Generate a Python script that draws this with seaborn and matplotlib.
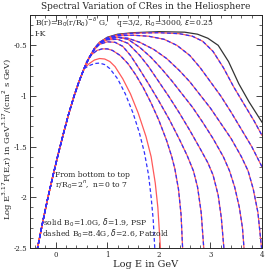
import numpy as np
import pandas as pd
import seaborn as sns
import matplotlib
matplotlib.use("Agg")
import matplotlib.pyplot as plt
from matplotlib.ticker import MultipleLocator

# shared low-energy rise (all curves follow it)
rise_x = [-0.36, -0.25, -0.15, -0.05, 0.05, 0.15, 0.25, 0.35, 0.45, 0.55]
rise_y = [-2.52, -2.24, -2.0, -1.78, -1.57, -1.37, -1.18, -1.01, -0.86, -0.73]

# top black curve
black_x = [0.65, 0.75, 0.85, 1.0, 1.2, 1.5, 2.0, 2.5, 2.75, 2.95, 3.15, 3.35, 3.55, 3.75, 4.0]
black_y = [-0.62, -0.53, -0.47, -0.42, -0.39, -0.375, -0.365, -0.37, -0.39, -0.43, -0.50, -0.66, -0.88, -1.06, -1.26]

# r/R0 = 2^n, solid (PSP)
n7_x = [0.65, 0.75, 0.85, 1.0, 1.2, 1.5, 2.0, 2.4, 2.65, 2.85, 3.05, 3.25, 3.45, 3.65, 3.85, 4.0]
n7_y = [-0.62, -0.53, -0.47, -0.425, -0.395, -0.38, -0.375, -0.385, -0.41, -0.46, -0.56, -0.72, -0.91, -1.08, -1.25, -1.39]
n6_x = [0.65, 0.75, 0.85, 1.0, 1.2, 1.5, 1.8, 2.1, 2.35, 2.6, 2.8, 3.0, 3.2, 3.4, 3.6, 3.8, 4.0]
n6_y = [-0.62, -0.535, -0.475, -0.43, -0.405, -0.40, -0.41, -0.44, -0.5, -0.6, -0.72, -0.86, -1.0, -1.16, -1.33, -1.5, -1.70]
n5_x = [0.65, 0.75, 0.85, 1.0, 1.2, 1.4, 1.63, 1.9, 2.15, 2.4, 2.6, 2.8, 3.0, 3.2, 3.4, 3.6, 3.73, 3.83, 3.92, 3.99]
n5_y = [-0.62, -0.54, -0.48, -0.44, -0.42, -0.43, -0.47, -0.54, -0.63, -0.75, -0.86, -0.99, -1.12, -1.27, -1.42, -1.6, -1.74, -1.92, -2.15, -2.5]
n4_x = [0.65, 0.75, 0.85, 1.0, 1.2, 1.4, 1.63, 1.85, 2.05, 2.25, 2.45, 2.65, 2.85, 3.05, 3.25, 3.37, 3.47, 3.56, 3.62, 3.65]
n4_y = [-0.62, -0.535, -0.48, -0.435, -0.42, -0.44, -0.52, -0.62, -0.73, -0.85, -0.98, -1.11, -1.26, -1.42, -1.6, -1.74, -1.9, -2.1, -2.3, -2.5]
n3_x = [0.65, 0.75, 0.85, 1.0, 1.2, 1.4, 1.63, 1.8, 2.0, 2.2, 2.4, 2.6, 2.8, 2.95, 3.05, 3.15, 3.21, 3.26]
n3_y = [-0.62, -0.535, -0.48, -0.445, -0.44, -0.48, -0.6, -0.71, -0.86, -1.01, -1.17, -1.34, -1.52, -1.66, -1.78, -1.98, -2.2, -2.5]
n2_x = [0.65, 0.75, 0.85, 1.0, 1.15, 1.3, 1.45, 1.63, 1.8, 2.0, 2.2, 2.4, 2.55, 2.67, 2.75, 2.82, 2.87]
n2_y = [-0.62, -0.54, -0.49, -0.465, -0.47, -0.51, -0.6, -0.74, -0.88, -1.05, -1.23, -1.43, -1.59, -1.74, -1.9, -2.15, -2.5]
n1_x = [0.6, 0.7, 0.8, 0.9, 1.0, 1.1, 1.25, 1.4, 1.55, 1.7, 1.85, 2.0, 2.15, 2.25, 2.31, 2.38, 2.43, 2.46]
n1_y = [-0.66, -0.59, -0.55, -0.535, -0.535, -0.55, -0.6, -0.68, -0.79, -0.92, -1.07, -1.24, -1.44, -1.6, -1.72, -1.92, -2.17, -2.5]
n0_x = [0.65, 0.75, 0.85, 0.95, 1.05, 1.15, 1.3, 1.45, 1.6, 1.75, 1.85, 1.93, 1.98, 2.03]
n0_y = [-0.68, -0.645, -0.63, -0.635, -0.66, -0.71, -0.83, -0.98, -1.17, -1.4, -1.6, -1.86, -2.1, -2.5]

# dashed (Patzold), only n=0 differs visibly
d0_x = [0.65, 0.75, 0.85, 0.95, 1.05, 1.2, 1.35, 1.5, 1.62, 1.72, 1.8, 1.85, 1.89, 1.92]
d0_y = [-0.7, -0.68, -0.675, -0.69, -0.73, -0.83, -0.98, -1.17, -1.36, -1.56, -1.78, -2.0, -2.22, -2.5]

solid_curves = [(n0_x, n0_y), (n1_x, n1_y), (n2_x, n2_y), (n3_x, n3_y),
                (n4_x, n4_y), (n5_x, n5_y), (n6_x, n6_y), (n7_x, n7_y)]
dashed_curves = [(d0_x, d0_y)] + solid_curves[1:]

sns.set_style("ticks")
plt.rcParams['font.family'] = ['DejaVu Serif']

fig, ax = plt.subplots(figsize=(2.77, 2.77), dpi=100)
fig.subplots_adjust(left=0.108, right=0.946, top=0.946, bottom=0.105)

sns.lineplot(x=rise_x + black_x, y=rise_y + black_y, ax=ax, color="#333333", lw=0.9, sort=False, estimator=None)
for cx, cy in solid_curves:
    sns.lineplot(x=rise_x + cx, y=rise_y + cy, ax=ax, color="#ff5a5a", lw=0.9, sort=False, estimator=None)
for cx, cy in dashed_curves:
    sns.lineplot(x=rise_x + cx, y=rise_y + cy, ax=ax, color="#3030ff", lw=0.9, sort=False,
                 estimator=None, linestyle=(0, (3, 2)))

ax.set_xlim(-0.5, 4)
ax.set_ylim(-2.5, -0.2)
ax.xaxis.set_major_locator(MultipleLocator(1))
ax.xaxis.set_minor_locator(MultipleLocator(0.2))
ax.yaxis.set_minor_locator(MultipleLocator(0.1))
ax.set_yticks([-2.5, -2, -1.5, -1, -0.5])
ax.set_yticklabels(["-2.5", "-2", "-1.5", "-1", "-0.5"])
ax.tick_params(which="both", direction="in", top=True, right=True, labelsize=5, pad=2)
ax.tick_params(which="major", length=4, width=0.6)
ax.tick_params(which="minor", length=2, width=0.5)
for s in ax.spines.values():
    s.set_linewidth(0.7)

ax.set_title("Spectral Variation of CRes in the Heliosphere", fontsize=6.5, pad=4)
ax.set_xlabel("Log E in GeV", fontsize=7, labelpad=1)
ax.set_ylabel(r"Log E$^{3.17}$F(E,r) in GeV$^{3.17}$/(cm$^2$ s GeV)", fontsize=6)
ax.yaxis.set_label_coords(-0.066, 0.47)

ax.text(-0.4, -0.31, r"B(r)=B$_0$(r/R$_0$)$^{-\delta}$ G,    q=3/2, R$_0$=3000, $\epsilon$=0.25", fontsize=5.5)
ax.text(-0.4, -0.41, "I-K", fontsize=5.5)
ax.text(-0.02, -1.8, "From bottom to top", fontsize=5.5)
ax.text(-0.02, -1.9, r"r/R$_0$=2$^n$,  n=0 to 7", fontsize=5.5)
ax.text(-0.24, -2.28, r"solid B$_0$=1.0G, $\delta$=1.9, PSP", fontsize=5.5)
ax.text(-0.27, -2.39, r"dashed B$_0$=8.4G, $\delta$=2.6, Patzold", fontsize=5.5)

fig.savefig("out.png", dpi=100)
